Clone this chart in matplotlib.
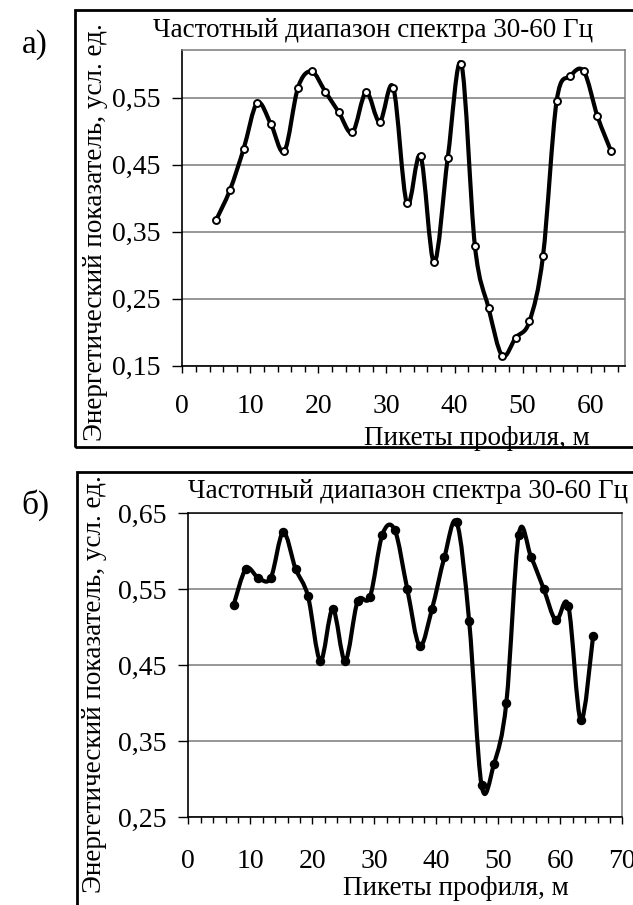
import numpy as np
import matplotlib
matplotlib.use("Agg")
import matplotlib.pyplot as plt
from matplotlib.path import Path
from matplotlib.patches import PathPatch, Rectangle

# ---------------- data ----------------
title_text = "Частотный диапазон спектра 30-60 Гц"
xlabel_text = "Пикеты профиля, м"
ylabel_text = "Энергетический показатель, усл. ед."

x_a = [5, 7, 9, 11, 13, 15, 17, 19, 21, 23, 25, 27, 29, 31, 33, 35, 37, 39, 41,
       43, 45, 47, 49, 51, 53, 55, 57, 59, 61, 63]
y_a = [0.368, 0.412, 0.473, 0.542, 0.511, 0.470, 0.565, 0.589, 0.559, 0.528,
       0.498, 0.558, 0.514, 0.565, 0.392, 0.463, 0.304, 0.460, 0.600, 0.328,
       0.236, 0.165, 0.192, 0.216, 0.314, 0.545, 0.582, 0.589, 0.522, 0.470]

x_b = [7.3, 9.3, 11.3, 13.3, 15.3, 17.3, 19.3, 21.3, 23.3, 25.3, 27.3, 29.3,
       31.3, 33.3, 35.3, 37.3, 39.3, 41.3, 43.3, 45.3, 47.3, 49.3, 51.3, 53.3,
       55.3, 57.3, 59.3, 61.3, 63.3, 65.3]
y_b = [0.529, 0.577, 0.565, 0.565, 0.625, 0.577, 0.541, 0.456, 0.524, 0.456,
       0.534, 0.540, 0.622, 0.628, 0.551, 0.476, 0.524, 0.592, 0.638, 0.508,
       0.292, 0.320, 0.401, 0.622, 0.592, 0.551, 0.509, 0.528, 0.378, 0.489]

yticks_a = [0.15, 0.25, 0.35, 0.45, 0.55]
yticklabels_a = ["0,15", "0,25", "0,35", "0,45", "0,55"]
xticks_a = [0, 10, 20, 30, 40, 50, 60]

yticks_b = [0.25, 0.35, 0.45, 0.55, 0.65]
yticklabels_b = ["0,25", "0,35", "0,45", "0,55", "0,65"]
xticks_b = [0, 10, 20, 30, 40, 50, 60, 70]

panel_labels = ["а)", "б)"]

# ---------------- style ----------------
plt.rcParams['font.family'] = ['Liberation Serif', 'DejaVu Serif']
W, H = 633, 905
fig = plt.figure(figsize=(W / 100, H / 100), dpi=100)

TICK_FS = 20
TEXT_FS = 19.5


def smooth_path(xs, ys):
    """Excel-like smoothed line as cubic Bezier segments through the points."""
    P = np.column_stack([xs, ys]).astype(float)
    n = len(P)
    verts = [P[0]]
    codes = [Path.MOVETO]
    for i in range(n - 1):
        p0 = P[i - 1] if i > 0 else P[i]
        p1 = P[i]
        p2 = P[i + 1]
        p3 = P[i + 2] if i + 2 < n else P[i + 1]
        c1 = p1 + (p2 - p0) / 6.0
        c2 = p2 - (p3 - p1) / 6.0
        verts += [c1, c2, p2]
        codes += [Path.CURVE4] * 3
    return Path(verts, codes)


def px_axes(l, t, r, b):
    return [l / W, 1 - b / H, (r - l) / W, (b - t) / H]


def style_axes(ax, xlim, ylim, xticks, yticks, yticklabels, xpad):
    ax.set_xlim(*xlim)
    ax.set_ylim(*ylim)
    ax.set_xticks(xticks)
    ax.set_xticks(np.arange(0, xlim[1] + 0.01, 2), minor=True)
    ax.set_yticks(yticks)
    ax.set_yticklabels(yticklabels)
    ax.yaxis.grid(True, color='#7a7a7a', linewidth=1.1)
    ax.set_axisbelow(True)
    ax.tick_params(axis='x', which='major', direction='out', length=5,
                   width=1, pad=xpad, labelsize=TICK_FS, color='black')
    ax.tick_params(axis='x', which='minor', direction='out', length=4,
                   width=1, color='black')
    ax.tick_params(axis='y', which='major', direction='out', length=7,
                   width=1, pad=9, labelsize=TICK_FS, color='black')
    ax.spines['left'].set_color('black')
    ax.spines['bottom'].set_color('black')
    ax.spines['left'].set_linewidth(1.2)
    ax.spines['bottom'].set_linewidth(1.2)
    ax.spines['top'].set_color('#7a7a7a')
    ax.spines['right'].set_color('#7a7a7a')
    ax.spines['top'].set_linewidth(1.1)
    ax.spines['right'].set_linewidth(1.1)


# ---------------- panel a ----------------
ax1 = fig.add_axes(px_axes(182.3, 50, 624.7, 365.7))
style_axes(ax1, (0, 65), (0.15, 0.621), xticks_a, yticks_a, yticklabels_a,
           xpad=15.5)
ax1.add_patch(PathPatch(smooth_path(x_a, y_a), facecolor='none',
                        edgecolor='black', linewidth=3.0, zorder=3,
                        capstyle='round', joinstyle='round'))
ax1.plot(x_a, y_a, linestyle='none', marker='o', markersize=5.0,
         markerfacecolor='white', markeredgecolor='black',
         markeredgewidth=1.4, zorder=4)
ax1.text(0.431, 1.063, title_text, transform=ax1.transAxes, ha='center',
         va='center', fontsize=TEXT_FS)
ax1.set_xlabel(xlabel_text, fontsize=TEXT_FS)
ax1.xaxis.set_label_coords(0.666, -0.232)
ax1.xaxis.label.set_va('center')
ax1.set_ylabel(ylabel_text, fontsize=TEXT_FS)
ax1.yaxis.set_label_coords(-0.197, 0.4235)
ax1.yaxis.label.set_va('center')

# ---------------- panel b ----------------
ax2 = fig.add_axes(px_axes(188.3, 513.3, 622.3, 817.3))
style_axes(ax2, (0, 70), (0.25, 0.65), xticks_b, yticks_b, yticklabels_b,
           xpad=18)
ax2.spines['top'].set_color('black')
ax2.add_patch(PathPatch(smooth_path(x_b, y_b), facecolor='none',
                        edgecolor='black', linewidth=3.0, zorder=3,
                        capstyle='round', joinstyle='round'))
ax2.plot(x_b, y_b, linestyle='none', marker='o', markersize=5.8,
         markerfacecolor='black', markeredgecolor='black', zorder=4)
ax2.text(0.506, 1.071, title_text, transform=ax2.transAxes, ha='center',
         va='center', fontsize=TEXT_FS)
ax2.set_xlabel(xlabel_text, fontsize=TEXT_FS)
ax2.xaxis.set_label_coords(0.617, -0.235)
ax2.xaxis.label.set_va('center')
ax2.set_ylabel(ylabel_text, fontsize=TEXT_FS)
ax2.yaxis.set_label_coords(-0.215, 0.4385)
ax2.yaxis.label.set_va('center')

# ---------------- outer frames ----------------
fig.add_artist(Rectangle((75 / W, 1 - 447 / H), 1.2, (447 - 10) / H,
                         transform=fig.transFigure, fill=False,
                         edgecolor='black', linewidth=2.0))
fig.add_artist(Rectangle((77.3 / W, -0.05), 1.2, 0.05 + (1 - 472 / H),
                         transform=fig.transFigure, fill=False,
                         edgecolor='black', linewidth=2.0))

fig.text(35 / W, 1 - 45 / H, panel_labels[0], fontsize=24, ha='center',
         va='center')
fig.text(35 / W, 1 - 505 / H, panel_labels[1], fontsize=24, ha='center',
         va='center')

fig.savefig("out.png", dpi=100)
